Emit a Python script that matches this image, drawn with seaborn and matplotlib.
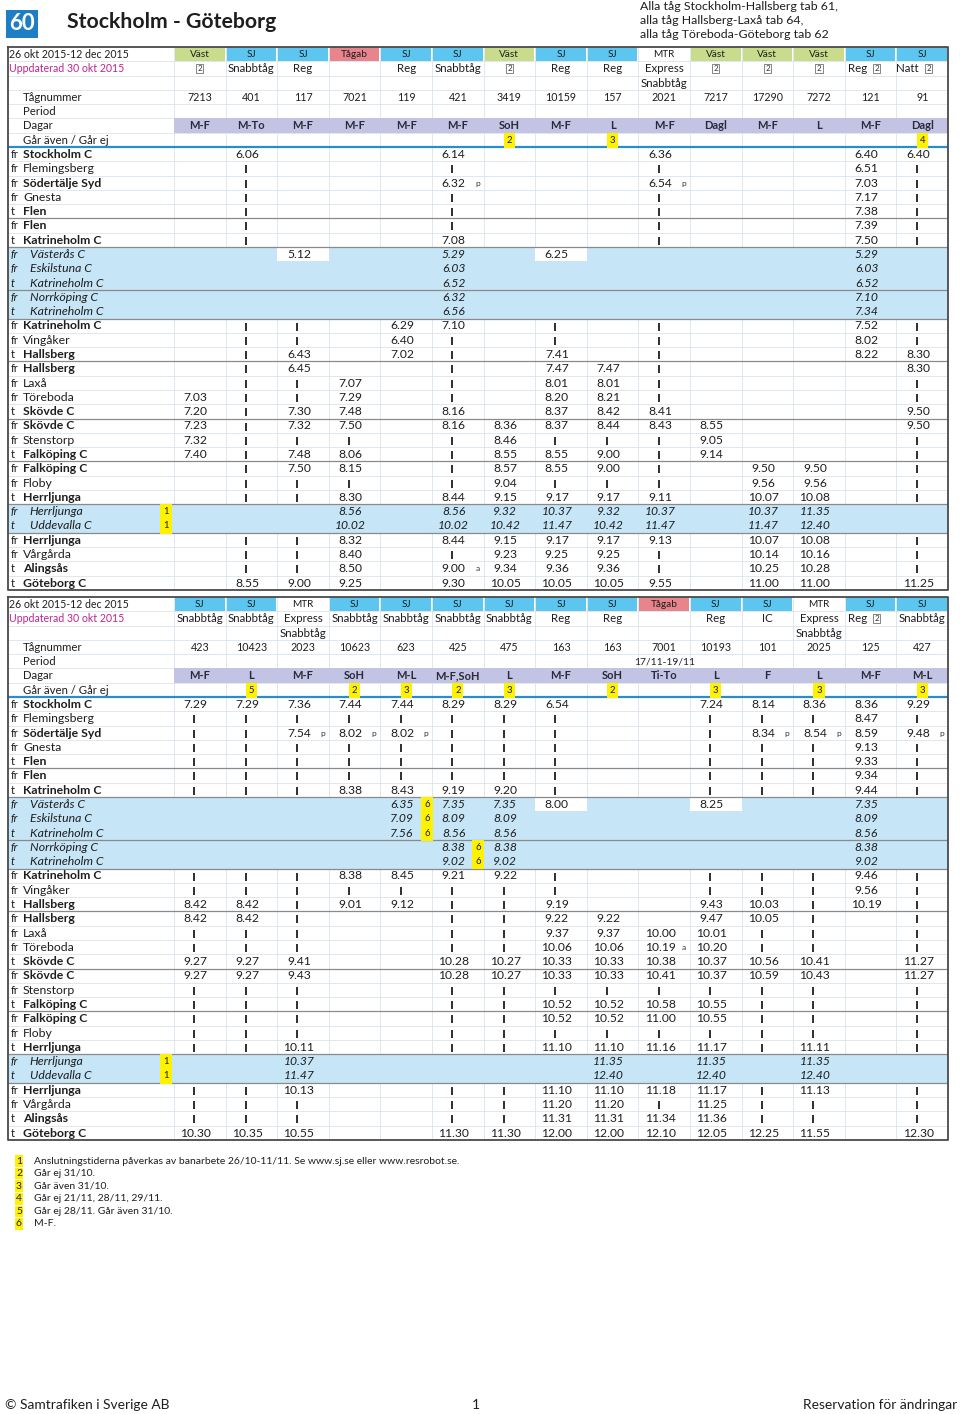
import os

# Store Matplotlib cache in a writable local folder for consistent script runs.
os.makedirs(".matplotlib", exist_ok=True)
os.environ["MPLCONFIGDIR"] = os.path.abspath(".matplotlib")

import numpy as np
import pandas as pd
import seaborn as sns

import matplotlib.pyplot as plt
from matplotlib.colors import ListedColormap

plt.switch_backend("Agg")

# ---------------------------------------------------------------- data
STATIONS = [
    ("fr", "Stockholm C", "b"), ("fr", "Flemingsberg", "r"), ("fr", "Södertälje Syd", "b"),
    ("fr", "Gnesta", "r"), ("t", "Flen", "b"), ("fr", "Flen", "b"), ("t", "Katrineholm C", "b"),
    ("fr", "Västerås C", "i"), ("fr", "Eskilstuna C", "i"), ("t", "Katrineholm C", "i"),
    ("fr", "Norrköping C", "i"), ("t", "Katrineholm C", "i"),
    ("fr", "Katrineholm C", "b"), ("fr", "Vingåker", "r"), ("t", "Hallsberg", "b"),
    ("fr", "Hallsberg", "b"), ("fr", "Laxå", "r"), ("fr", "Töreboda", "r"), ("t", "Skövde C", "b"),
    ("fr", "Skövde C", "b"), ("fr", "Stenstorp", "r"), ("t", "Falköping C", "b"),
    ("fr", "Falköping C", "b"), ("fr", "Floby", "r"), ("t", "Herrljunga", "b"),
    ("fr", "Herrljunga", "i"), ("t", "Uddevalla C", "i"),
    ("fr", "Herrljunga", "b"), ("fr", "Vårgårda", "r"), ("t", "Alingsås", "b"), ("t", "Göteborg C", "b"),
]
CONNECTION_NOTE_ROWS = ["Herrljunga", "Uddevalla C"]

operators_1 = ["Väst", "SJ", "SJ", "Tågab", "SJ", "SJ", "Väst", "SJ", "SJ", "MTR",
               "Väst", "Väst", "Väst", "SJ", "SJ"]
kinds_1 = ["[2]", "Snabbtåg", "Reg", "", "Reg", "Snabbtåg", "[2]", "Reg", "Reg", "Express",
           "[2]", "[2]", "[2]", "Reg [2]", "Natt [2]"]
kinds_b_1 = ["", "", "", "", "", "", "", "", "", "Snabbtåg", "", "", "", "", ""]
numbers_1 = ["7213", "401", "117", "7021", "119", "421", "3419", "10159", "157", "2021",
             "7217", "17290", "7272", "121", "91"]
periods_1 = [""] * 15
days_1 = ["M-F", "M-To", "M-F", "M-F", "M-F", "M-F", "SoH", "M-F", "L", "M-F",
          "Dagl", "M-F", "L", "M-F", "Dagl"]
notes_1 = ["", "", "", "", "", "", "2", "", "3", "", "", "", "", "", "4"]

times_1 = [
    ". 6.06 . . . 6.14 . . . 6.36 . . . 6.40 6.40",
    ". | . . . | . . . | . . . 6.51 |",
    ". | . . . 6.32p . . . 6.54p . . . 7.03 |",
    ". | . . . | . . . | . . . 7.17 |",
    ". | . . . | . . . | . . . 7.38 |",
    ". | . . . | . . . | . . . 7.39 |",
    ". | . . . 7.08 . . . | . . . 7.50 |",
    ". . 5.12! . . 5.29 . 6.25! . . . . . 5.29 .",
    ". . . . . 6.03 . . . . . . . 6.03 .",
    ". . . . . 6.52 . . . . . . . 6.52 .",
    ". . . . . 6.32 . . . . . . . 7.10 .",
    ". . . . . 6.56 . . . . . . . 7.34 .",
    ". | | . 6.29 7.10 . | . | . . . 7.52 |",
    ". | | . 6.40 | . | . | . . . 8.02 |",
    ". | 6.43 . 7.02 | . 7.41 . | . . . 8.22 8.30",
    ". | 6.45 . . | . 7.47 7.47 | . . . . 8.30",
    ". | | 7.07 . | . 8.01 8.01 | . . . . |",
    "7.03 | | 7.29 . | . 8.20 8.21 | . . . . |",
    "7.20 | 7.30 7.48 . 8.16 . 8.37 8.42 8.41 . . . . 9.50",
    "7.23 | 7.32 7.50 . 8.16 8.36 8.37 8.44 8.43 8.55 . . . 9.50",
    "7.32 | | | . | 8.46 | | | 9.05 . . . |",
    "7.40 | 7.48 8.06 . | 8.55 8.55 9.00 | 9.14 . . . |",
    ". | 7.50 8.15 . | 8.57 8.55 9.00 | . 9.50 9.50 . |",
    ". | | | . | 9.04 | | | . 9.56 9.56 . |",
    ". | | 8.30 . 8.44 9.15 9.17 9.17 9.11 . 10.07 10.08 . |",
    ". . . 8.56 . 8.56 9.32 10.37 9.32 10.37 . 10.37 11.35 . .",
    ". . . 10.02 . 10.02 10.42 11.47 10.42 11.47 . 11.47 12.40 . .",
    ". | | 8.32 . 8.44 9.15 9.17 9.17 9.13 . 10.07 10.08 . |",
    ". | | 8.40 . | 9.23 9.25 9.25 | . 10.14 10.16 . |",
    ". | | 8.50 . 9.00a 9.34 9.36 9.36 | . 10.25 10.28 . |",
    ". 8.55 9.00 9.25 . 9.30 10.05 10.05 10.05 9.55 . 11.00 11.00 . 11.25",
]

operators_2 = ["SJ", "SJ", "MTR", "SJ", "SJ", "SJ", "SJ", "SJ", "SJ", "Tågab",
               "SJ", "SJ", "MTR", "SJ", "SJ"]
kinds_2 = ["Snabbtåg", "Snabbtåg", "Express", "Snabbtåg", "Snabbtåg", "Snabbtåg", "Snabbtåg",
           "Reg", "Reg", "", "Reg", "IC", "Express", "Reg [2]", "Snabbtåg"]
kinds_b_2 = ["", "", "Snabbtåg", "", "", "", "", "", "", "", "", "", "Snabbtåg", "", ""]
numbers_2 = ["423", "10423", "2023", "10623", "623", "425", "475", "163", "163", "7001",
             "10193", "101", "2025", "125", "427"]
periods_2 = ["", "", "", "", "", "", "", "", "", "17/11-19/11", "", "", "", "", ""]
days_2 = ["M-F", "L", "M-F", "SoH", "M-L", "M-F,SoH", "L", "M-F", "SoH", "Ti-To",
          "L", "F", "L", "M-F", "M-L"]
notes_2 = ["", "5", "", "2", "3", "2", "3", "", "2", "", "3", "", "3", "", "3"]

times_2 = [
    "7.29 7.29 7.36 7.44 7.44 8.29 8.29 6.54 . . 7.24 8.14 8.36 8.36 9.29",
    "| | | | | | | | . . | | | 8.47 |",
    "| | 7.54p 8.02p 8.02p | | | . . | 8.34p 8.54p 8.59 9.48p",
    "| | | | | | | | . . | | | 9.13 |",
    "| | | | | | | | . . | | | 9.33 |",
    "| | | | | | | | . . | | | 9.34 |",
    "| | | 8.38 8.43 9.19 9.20 | . . | | | 9.44 |",
    ". . . . 6.35*6 7.35 7.35 8.00! . . 8.25! . . 7.35 .",
    ". . . . 7.09*6 8.09 8.09 . . . . . . 8.09 .",
    ". . . . 7.56*6 8.56 8.56 . . . . . . 8.56 .",
    ". . . . . 8.38*6 8.38 . . . . . . 8.38 .",
    ". . . . . 9.02*6 9.02 . . . . . . 9.02 .",
    "| | | 8.38 8.45 9.21 9.22 | . . | | | 9.46 |",
    "| | | | | | | | . . | | | 9.56 |",
    "8.42 8.42 | 9.01 9.12 | | 9.19 . . 9.43 10.03 | 10.19 |",
    "8.42 8.42 | . . | | 9.22 9.22 . 9.47 10.05 | . |",
    "| | | . . | | 9.37 9.37 10.00 10.01 | | . |",
    "| | | . . | | 10.06 10.06 10.19a 10.20 | | . |",
    "9.27 9.27 9.41 . . 10.28 10.27 10.33 10.33 10.38 10.37 10.56 10.41 . 11.27",
    "9.27 9.27 9.43 . . 10.28 10.27 10.33 10.33 10.41 10.37 10.59 10.43 . 11.27",
    "| | | . . | | | | | | | | . |",
    "| | | . . | | 10.52 10.52 10.58 10.55 | | . |",
    "| | | . . | | 10.52 10.52 11.00 10.55 | | . |",
    "| | | . . | | | | | | | | . |",
    "| | 10.11 . . | | 11.10 11.10 11.16 11.17 | 11.11 . |",
    ". . 10.37 . . . . . 11.35 . 11.35 . 11.35 . .",
    ". . 11.47 . . . . . 12.40 . 12.40 . 12.40 . .",
    "| | 10.13 . . | | 11.10 11.10 11.18 11.17 | 11.13 . |",
    "| | | . . | | 11.20 11.20 | 11.25 | | . |",
    "| | | . . | | 11.31 11.31 11.34 11.36 | | . |",
    "10.30 10.35 10.55 . . 11.30 11.30 12.00 12.00 12.10 12.05 12.25 11.55 . 12.30",
]

ROUTE_NOTES = ["Alla tåg Stockholm-Hallsberg tab 61,",
               "alla tåg Hallsberg-Laxå tab 64,",
               "alla tåg Töreboda-Göteborg tab 62"]
FOOTNOTE_KEYS = ["1", "2", "3", "4", "5", "6"]
FOOTNOTE_TEXTS = [
    "Anslutningstiderna påverkas av banarbete 26/10-11/11. Se www.sj.se eller www.resrobot.se.",
    "Går ej 31/10.",
    "Går även 31/10.",
    "Går ej 21/11, 28/11, 29/11.",
    "Går ej 28/11. Går även 31/10.",
    "M-F.",
]

# ---------------------------------------------------------------- style
TEXT = "#1e1e1e"
GRID = "#dbe4ec"
BAND = "#c6e6f7"
YELLOW = "#fff200"
OP_COLORS = {"Väst": "#c9dc8c", "SJ": "#5cc5f0", "Tågab": "#e8848c", "MTR": "#ffffff"}
# background codes: 0 clear, 4 lavender day row, 5 band, 6 white box
BG_CMAP = ListedColormap([(1, 1, 1, 0), "#c9dc8c", "#5cc5f0", "#e8848c",
                          "#c3c3e3", BAND, "#ffffff"])
N_COLS = 15
N_HEAD = 7
LABEL_W = 166 / 51.6
SEPARATORS = [12, 14, 17, 19, 22, 26, 29, 32, 34]
TY = 0.52  # vertical text anchor inside a row


def boxed_two(ax, x, y):
    ax.text(x, y, "2", ha="center", va="center", fontsize=5.8, color="#333",
            bbox=dict(boxstyle="square,pad=0.15", fc="white", ec="#555", lw=0.5), zorder=5)


def draw_kind(ax, c, r, kind):
    if not kind:
        return
    if kind == "[2]":
        boxed_two(ax, c + 0.5, r + TY)
    elif kind.endswith(" [2]"):
        ax.text(c + 0.44, r + TY, kind[:-4], ha="right", va="center", fontsize=8.3,
                color=TEXT, zorder=5)
        boxed_two(ax, c + 0.62, r + TY)
    else:
        ax.text(c + 0.5, r + TY, kind, ha="center", va="center", fontsize=8.3,
                color=TEXT, zorder=5)


def draw_time(ax, r, c, token, italic):
    if token == ".":
        return
    if token == "|":
        ax.vlines(c + 0.39, r + 0.28, r + 0.84, color=TEXT, lw=1.3, zorder=4)
        return
    note = None
    if "*" in token:
        token, note = token.split("*")
    flag = ""
    if token[-1] in ("p", "a", "!"):
        token, flag = token[:-1], token[-1]
    style = "italic" if (italic and flag != "!") else "normal"
    ax.text(c + 0.42, r + TY, token, ha="center", va="center", fontsize=8.7,
            style=style, color=TEXT, zorder=4)
    if flag in ("p", "a"):
        ax.text(c + 0.88, r + TY, flag, ha="center", va="center", fontsize=6.0,
                color="#333", zorder=4)
    if note:
        ax.text(c + 0.9, r + TY, note, ha="center", va="center", fontsize=6.8,
                color=TEXT, zorder=5,
                bbox=dict(boxstyle="square,pad=0.35", fc=YELLOW, ec="none"))


def draw_table(ax, operators, kinds, kinds_b, numbers, periods, days, notes, times):
    rows = [t.split() for t in times]
    n_rows = N_HEAD + len(rows)

    # background code matrix for the heatmap
    bg = np.zeros((n_rows, N_COLS), dtype=int)
    bg[5, :] = 4
    for i, (_, _, st) in enumerate(STATIONS):
        if st == "i":
            bg[N_HEAD + i, :] = 5
            for c, tok in enumerate(rows[i]):
                if tok.endswith("!"):
                    bg[N_HEAD + i, c] = 6
    sns.heatmap(pd.DataFrame(bg), cmap=BG_CMAP, vmin=-0.5, vmax=6.5, cbar=False,
                xticklabels=False, yticklabels=False, linewidths=0, ax=ax)
    ax.set_xlim(-LABEL_W, N_COLS)
    ax.set_ylim(n_rows, 0)
    ax.set_axis_off()

    # light grid
    ax.vlines(np.arange(0, N_COLS), 0, n_rows, color=GRID, lw=0.6, zorder=0.5)
    ax.hlines(np.arange(1, n_rows), -LABEL_W, N_COLS, color=GRID, lw=0.6, zorder=0.5)

    # operator row
    ax.bar(np.arange(N_COLS) + 0.5, 1, bottom=0, width=0.965,
           color=[OP_COLORS[o] for o in operators], linewidth=0, zorder=1.5)

    # band in label column
    band_rows = [N_HEAD + i for i, s in enumerate(STATIONS) if s[2] == "i"]
    ax.barh(np.array(band_rows) + 0.5, LABEL_W + 0.02, left=-LABEL_W, height=1,
            color=BAND, linewidth=0, zorder=1)

    # header texts
    for c in range(N_COLS):
        ax.text(c + 0.5, TY, operators[c], ha="center", va="center", fontsize=7.2,
                color=TEXT, zorder=5)
        draw_kind(ax, c, 1, kinds[c])
        if kinds_b[c]:
            ax.text(c + 0.5, 2 + TY, kinds_b[c], ha="center", va="center", fontsize=8.3,
                    color=TEXT, zorder=5)
        ax.text(c + 0.5, 3 + TY, numbers[c], ha="center", va="center", fontsize=7.7,
                color=TEXT, zorder=5)
        if periods[c]:
            ax.text(c + 0.5, 4 + TY, periods[c], ha="center", va="center", fontsize=7.4,
                    color=TEXT, zorder=5)
        ax.text(c + 0.5, 5 + TY, days[c], ha="center", va="center", fontsize=8.0,
                fontweight="bold", color="#2a2a3a", zorder=5)
        if notes[c]:
            ax.text(c + 0.5, 6 + TY, notes[c], ha="center", va="center", fontsize=6.8,
                    color=TEXT, zorder=5,
                    bbox=dict(boxstyle="square,pad=0.3", fc=YELLOW, ec="none"))

    x0 = -LABEL_W
    ax.text(x0 + 0.02, TY, "26 okt 2015-12 dec 2015", ha="left", va="center",
            fontsize=7.6, color=TEXT)
    ax.text(x0 + 0.02, 1 + TY, "Uppdaterad 30 okt 2015", ha="left", va="center",
            fontsize=7.6, color="#c0248e")
    for r, lab in zip([3, 4, 5, 6], ["Tågnummer", "Period", "Dagar", "Går även / Går ej"]):
        ax.text(x0 + 0.29, r + TY, lab, ha="left", va="center", fontsize=8.2, color=TEXT)

    # station labels and times
    for i, (pre, name, st) in enumerate(STATIONS):
        r = N_HEAD + i
        italic = st == "i"
        ax.text(x0 + 0.05, r + TY, pre, ha="left", va="center", fontsize=8.0,
                style="italic" if italic else "normal", color=TEXT)
        ax.text(x0 + (0.42 if italic else 0.29), r + TY, name, ha="left", va="center",
                fontsize=8.8, fontweight="bold" if st == "b" else "normal",
                style="italic" if italic else "normal", color=TEXT)
        if italic and name in CONNECTION_NOTE_ROWS:
            ax.text(-0.16, r + TY, "1", ha="center", va="center", fontsize=6.8,
                    color=TEXT, zorder=5,
                    bbox=dict(boxstyle="square,pad=0.35", fc=YELLOW, ec="none"))
        for c, tok in enumerate(rows[i]):
            draw_time(ax, r, c, tok, italic)

    # section separators, header rule and frame
    ax.hlines(np.array(SEPARATORS), -LABEL_W, N_COLS, color="#8a8a8a", lw=0.9, zorder=3)
    ax.hlines(N_HEAD, -LABEL_W, N_COLS, color="#2a8bd0", lw=1.6, zorder=3)
    ax.plot([-LABEL_W, N_COLS, N_COLS, -LABEL_W, -LABEL_W], [0, 0, n_rows, n_rows, 0],
            color="#4a4a4a", lw=1.3, zorder=6, clip_on=False)


def main():
    sns.set_theme(style="white")
    plt.rcParams["font.family"] = ["Lato", "DejaVu Sans"]

    W, H = 960, 1414
    fig = plt.figure(figsize=(W / 100, H / 100), dpi=100)

    ax1 = fig.add_axes([8 / W, 1 - 590 / H, 940 / W, 543 / H])
    draw_table(ax1, operators_1, kinds_1, kinds_b_1, numbers_1, periods_1, days_1,
               notes_1, times_1)
    ax2 = fig.add_axes([8 / W, 1 - 1140 / H, 940 / W, 543 / H])
    draw_table(ax2, operators_2, kinds_2, kinds_b_2, numbers_2, periods_2, days_2,
               notes_2, times_2)

    # title block
    fig.text(22 / W, 1 - 24 / H, "60", ha="center", va="center", fontsize=16,
             fontweight="bold", color="white",
             bbox=dict(boxstyle="square,pad=0.16", fc="#1d7ec4", ec="none"))
    fig.text(67 / W, 1 - 22 / H, "Stockholm - Göteborg", ha="left", va="center",
             fontsize=15.3, fontweight="bold", color=TEXT)
    for k, line in enumerate(ROUTE_NOTES):
        fig.text(640 / W, 1 - (7 + 14 * k) / H, line, ha="left", va="center",
                 fontsize=8.9, color=TEXT)

    # footnotes
    for k, (key, txt) in enumerate(zip(FOOTNOTE_KEYS, FOOTNOTE_TEXTS)):
        y = 1 - (1161 + 12.6 * k) / H
        fig.text(19 / W, y, key, ha="center", va="center", fontsize=7.5, color=TEXT,
                 bbox=dict(boxstyle="square,pad=0.12", fc=YELLOW, ec="none"))
        fig.text(34 / W, y, txt, ha="left", va="center", fontsize=7.45, color=TEXT)

    # footer
    fig.text(5 / W, 1 - 1405 / H, "© Samtrafiken i Sverige AB", ha="left", va="center",
             fontsize=9.9, color=TEXT)
    fig.text(476 / W, 1 - 1405 / H, "1", ha="center", va="center", fontsize=9.9, color=TEXT)
    fig.text(957 / W, 1 - 1405 / H, "Reservation för ändringar", ha="right", va="center",
             fontsize=9.9, color=TEXT)

    fig.savefig("out.png", dpi=100, facecolor="white")
    plt.close(fig)


if __name__ == "__main__":
    main()
